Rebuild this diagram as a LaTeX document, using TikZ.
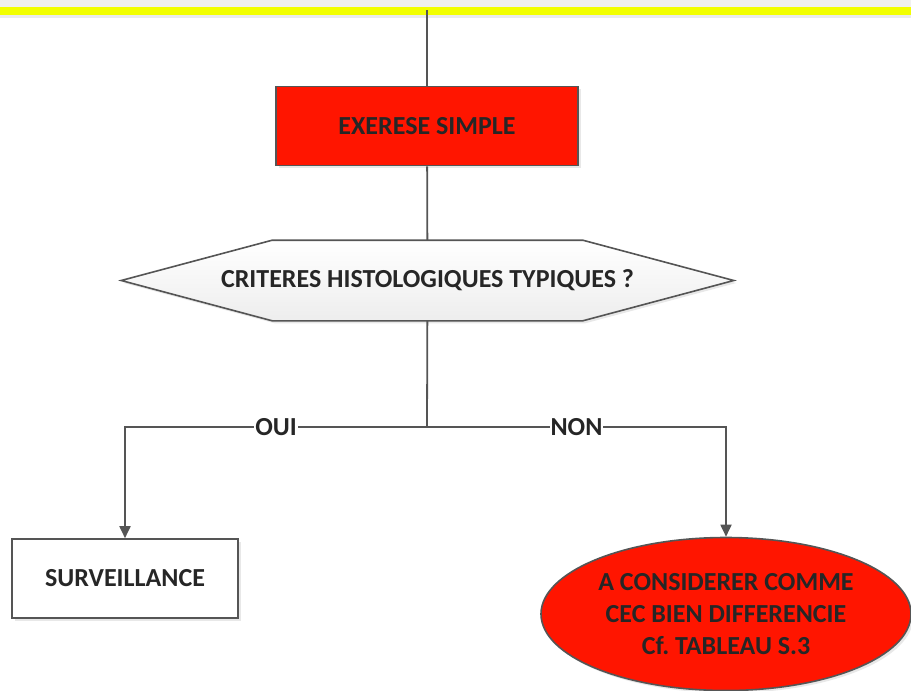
\documentclass[tikz,border=0pt]{standalone}
\usepackage{fontspec}
\setmainfont{Carlito}
\usetikzlibrary{positioning, arrows.meta, shapes.geometric, shadows, backgrounds}
\definecolor{alarm}{HTML}{FF1500}
\definecolor{edgegrey}{HTML}{555555}
\definecolor{band}{HTML}{F2FF00}

\begin{document}
\begin{tikzpicture}[x=1pt, y=-1pt, >={Triangle[length=12pt, width=11pt]}, thick,
    font=\fontsize{26}{32}\selectfont\bfseries, text=black!85,
    every node/.style={line width=1.6pt, draw=edgegrey},
    shadowed/.style={drop shadow={shadow xshift=2.5pt, shadow yshift=-2.5pt, opacity=0.18}},
    act/.style={rectangle, minimum width=302pt, minimum height=79pt, fill=alarm, shadowed},
    result/.style={rectangle, minimum width=226pt, minimum height=79pt, fill=white, shadowed},
    ask/.style={rectangle, draw=none, minimum width=611pt, minimum height=79pt, inner sep=0pt},
    hexa/.style={draw=edgegrey, line width=1.6pt, line join=miter,
        top color=white, bottom color=black!7, shadowed},
    finish/.style={ellipse, minimum width=370pt, minimum height=153pt, fill=alarm,
        align=center, inner sep=0pt, shadowed},
    tag/.style={draw=none, fill=white, inner sep=1pt},
    link/.style={draw=edgegrey, line width=1.8pt}]
    \useasboundingbox (0,0) rectangle (911,691);
    \fill[black!6] (0,0) rectangle (911,7);
    \fill[band] (0,7) rectangle (911,15);
    \fill[black!8] (0,15) rectangle (911,18);

    \coordinate (top) at (427,10);
    \node[act] (exerese) at (427,126) {EXERESE SIMPLE};
    \node[ask] (criteres) at (427.5,280.5) {CRITERES HISTOLOGIQUES TYPIQUES ?};
    \coordinate (split) at (427,427);
    \node[result] (surv) at (125,578.5) {SURVEILLANCE};
    \node[finish] (cec) at (726,614) {A CONSIDERER COMME\\CEC BIEN DIFFERENCIE\\Cf.\ TABLEAU S.3};

    % hexagon behind the question
    \begin{scope}[on background layer]
        \path[hexa] (criteres.west) -- ([xshift=151pt]criteres.north west)
            -- ([xshift=-151pt]criteres.north east) -- (criteres.east)
            -- ([xshift=-151pt]criteres.south east) -- ([xshift=151pt]criteres.south west) -- cycle;
    \end{scope}

    \draw[link] (top) -- (exerese);
    \draw[link] (exerese) -- (criteres);
    \draw[link] (criteres) -- (split);
    \draw[link, ->] (split) -- node[tag] {OUI} (split -| surv.north) -- (surv.north);
    \draw[link, ->] (split) -- node[tag] {NON} (split -| cec.north) -- (cec.north);
\end{tikzpicture}
\end{document}
